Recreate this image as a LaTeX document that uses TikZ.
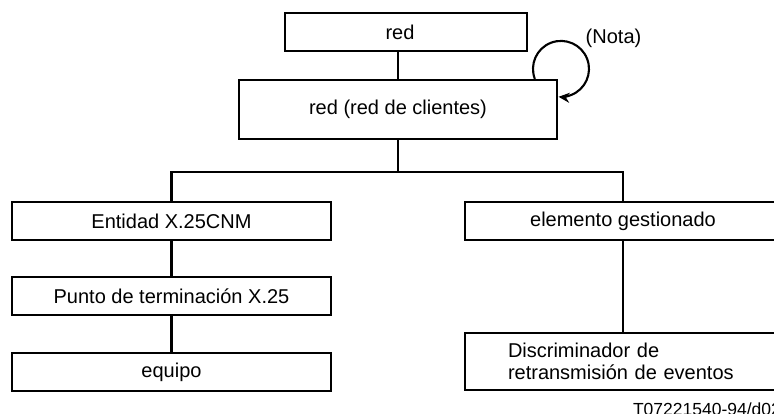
\documentclass[tikz,border=0pt]{standalone}
\usepackage{fontspec}
\setmainfont{Liberation Sans}
\usetikzlibrary{arrows.meta}
\begin{document}
\begin{tikzpicture}[x=1pt,y=1pt,
  line width=2.1pt,
  boxnode/.style={draw, line width=2.1pt, rectangle, inner sep=0pt, minimum height=38pt,
    font=\fontsize{20}{21.5}\selectfont},
  link/.style={line width=2.1pt},
  plain/.style={font=\fontsize{20}{21.5}\selectfont, inner sep=0pt}]
\useasboundingbox (0,0) rectangle (774,414);
\node[boxnode, minimum width=242pt] (red) at (406,382) {red\kern12pt};
\node[boxnode, minimum width=318pt, minimum height=59pt] (cl) at (398,304.5) {red (red de clientes)};
\node[boxnode, minimum width=319pt] (ent) at (171.5,193) {Entidad X.25CNM};
\node[boxnode, minimum width=319pt] (pun) at (171.5,118) {Punto de terminación X.25};
\node[boxnode, minimum width=319pt] (equ) at (171.5,42) {equipo};
\node[boxnode, minimum width=316pt] (ele) at (623,193) {elemento gestionado};
\node[boxnode, minimum width=316pt, minimum height=57pt, text width=230pt, align=left] (dis) at (623,52.5)
  {Discriminador de\\retransmisión de eventos};
\node[plain] (nota) at (613.5,376) {(Nota)};
\node[font=\fontsize{17.5}{18}\selectfont, inner sep=0pt, anchor=base west] (code) at (632,-1.5) {T07221540-94/d02};
\coordinate (bus) at (398,242);
\draw[link] (cl.north) -- (cl.north |- red.south);
\draw[link] (cl.south) -- (bus);
\draw[link] (ent.north) |- (bus) -| (ele.north);
\draw[link] (ent.south) -- (pun.north);
\draw[link] (pun.south) -- (equ.north);
\draw[link] (ele.south) -- (dis.north);
\draw[link, -{Stealth[length=11pt,width=10pt]}] ([xshift=-23.2pt]cl.north east)
  arc[start angle=201, end angle=-95, radius=28pt];
\end{tikzpicture}
\end{document}
